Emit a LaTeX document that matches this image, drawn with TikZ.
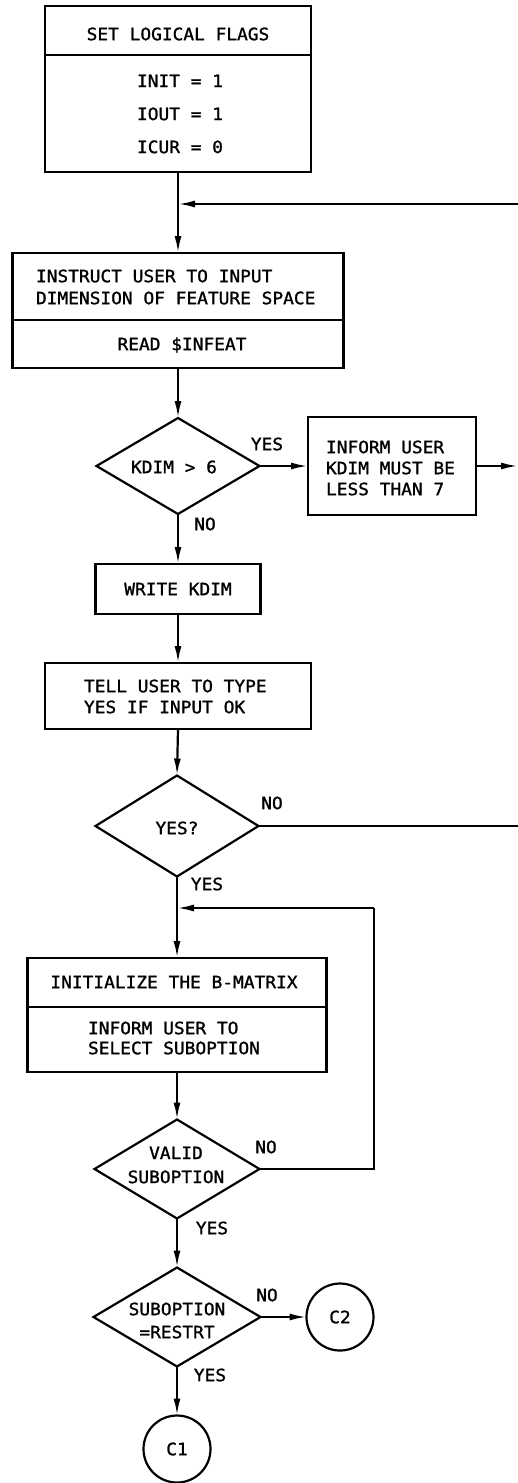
\documentclass[tikz,border=0pt]{standalone}
\usepackage{fontspec}
\newfontfamily\lett[FakeStretch=1.05,FakeBold=1.3]{DejaVu Sans Mono}
\usetikzlibrary{arrows.meta,shapes.geometric}
\begin{document}
\begin{tikzpicture}[x=1pt,y=-1pt, line width=2.2pt,
  box/.style={draw, rectangle, inner sep=0pt, outer sep=0pt},
  dia/.style={draw, diamond, inner sep=0pt, outer sep=0pt},
  conn/.style={draw, circle, inner sep=0pt, outer sep=0pt, minimum size=67pt, font=\lett\fontsize{17}{20}\selectfont},
  txt/.style={inner sep=0pt, outer sep=0pt, font=\lett\fontsize{17}{21}\selectfont},
  flow/.style={-{Latex[length=17pt,width=7pt]}}
]
\useasboundingbox (0,0) rectangle (518,1483);

% --- SET LOGICAL FLAGS
\node[box, minimum width=266pt, minimum height=166pt] (flags) at (178,89) {};
\draw (45,55) -- (311,55);
\node[txt] (t1) at (178,34) {SET LOGICAL FLAGS};
\node[txt, align=center, font=\lett\fontsize{17}{33}\selectfont] (t2) at (180,114) {INIT = 1\\IOUT = 1\\ICUR = 0};

\coordinate (j1) at (178,204);
\coordinate (r1) at (518,204);

% --- INSTRUCT USER
\node[box, minimum width=331pt, minimum height=115pt] (instr) at (178,310.5) {};
\draw (12.5,320) -- (343.5,320);
\node[txt, align=left, anchor=west, font=\lett\fontsize{17}{22}\selectfont] (t3) at (36,287) {INSTRUCT USER TO INPUT\\DIMENSION OF FEATURE SPACE};
\node[txt] (t4) at (182,345) {READ \$INFEAT};

% --- KDIM > 6
\node[dia, minimum width=163pt, minimum height=96pt] (kdim) at (178,466) {};
\node[txt] (t5) at (174,467) {KDIM > 6};
\node[txt] (yes1) at (267,444) {YES};
\node[txt] (no1) at (205,524) {NO};

\node[box, minimum width=168pt, minimum height=98pt] (inform) at (392,466) {};
\node[txt, align=left, anchor=west] (t6) at (326,468) {INFORM USER\\KDIM MUST BE\\LESS THAN 7};
\coordinate (r2) at (518,466);

% --- WRITE KDIM
\node[box, txt, draw, minimum width=165pt, minimum height=50pt] (write) at (178,589) {WRITE KDIM};

% --- TELL USER
\node[box, minimum width=266pt, minimum height=66pt] (tell) at (178,696) {};
\node[txt, align=left, anchor=west] (t7) at (84,696.5) {TELL USER TO TYPE\\YES IF INPUT OK};

% --- YES?
\node[dia, minimum width=163pt, minimum height=101pt] (yesq) at (177,826) {};
\node[txt] (t8) at (177,828) {YES?};
\node[txt] (no2) at (272,803) {NO};
\node[txt] (yes2) at (207,884) {YES};
\coordinate (r3) at (518,826);

\coordinate (j2) at (177,908);
\coordinate (k1) at (374,908);
\coordinate (k2) at (374,1169);

% --- INITIALIZE THE B-MATRIX
\node[box, minimum width=299pt, minimum height=114pt] (initb) at (177,1015) {};
\draw (27.5,1007) -- (326.5,1007);
\node[txt] (t9) at (174,982) {INITIALIZE THE B-MATRIX};
\node[txt, align=left, anchor=west, font=\lett\fontsize{17}{20}\selectfont] (t10) at (88,1038) {INFORM USER TO\\SELECT SUBOPTION};

% --- VALID SUBOPTION
\node[dia, minimum width=165pt, minimum height=99pt] (valid) at (177,1169) {};
\node[txt, align=center, font=\lett\fontsize{17}{24}\selectfont] (t11) at (176,1165) {VALID\\SUBOPTION};
\node[txt] (no3) at (266,1147) {NO};
\node[txt] (yes3) at (212,1228) {YES};

% --- SUBOPTION = RESTRT
\node[dia, minimum width=167pt, minimum height=99pt] (restrt) at (177,1317) {};
\node[txt, align=center, font=\lett\fontsize{17}{23}\selectfont] (t12) at (177,1320.5) {SUBOPTION\\=RESTRT};
\node[txt] (no4) at (267,1295) {NO};
\node[txt] (yes4) at (210,1375) {YES};

\node[conn] (c2) at (340,1317) {C2};
\node[conn] (c1) at (177,1449) {C1};

% --- connectors
\draw (flags.south) -- (j1);
\draw[flow] (j1) -- (instr.north);
\draw[flow] (r1) -- (j1);
\draw[flow] (instr.south) -- (kdim.north);
\draw[flow] (kdim.east) -- (inform.west);
\draw[flow] (inform.east) -- (r2);
\draw[flow] (kdim.south) -- (write.north);
\draw[flow] (write.south) -- (tell.north);
\draw[flow] (tell.south) -- (yesq.north);
\draw (yesq.east) -- (r3);
\draw (yesq.south) -- (j2);
\draw[flow] (j2) -- (initb.north);
\draw (valid.east) -- (k2) -- (k1);
\draw[flow] (k1) -- (j2);
\draw[flow] (initb.south) -- (valid.north);
\draw[flow] (valid.south) -- (restrt.north);
\draw[flow] (restrt.east) -- (c2.west);
\draw[flow] (restrt.south) -- (c1.north);
\end{tikzpicture}
\end{document}
